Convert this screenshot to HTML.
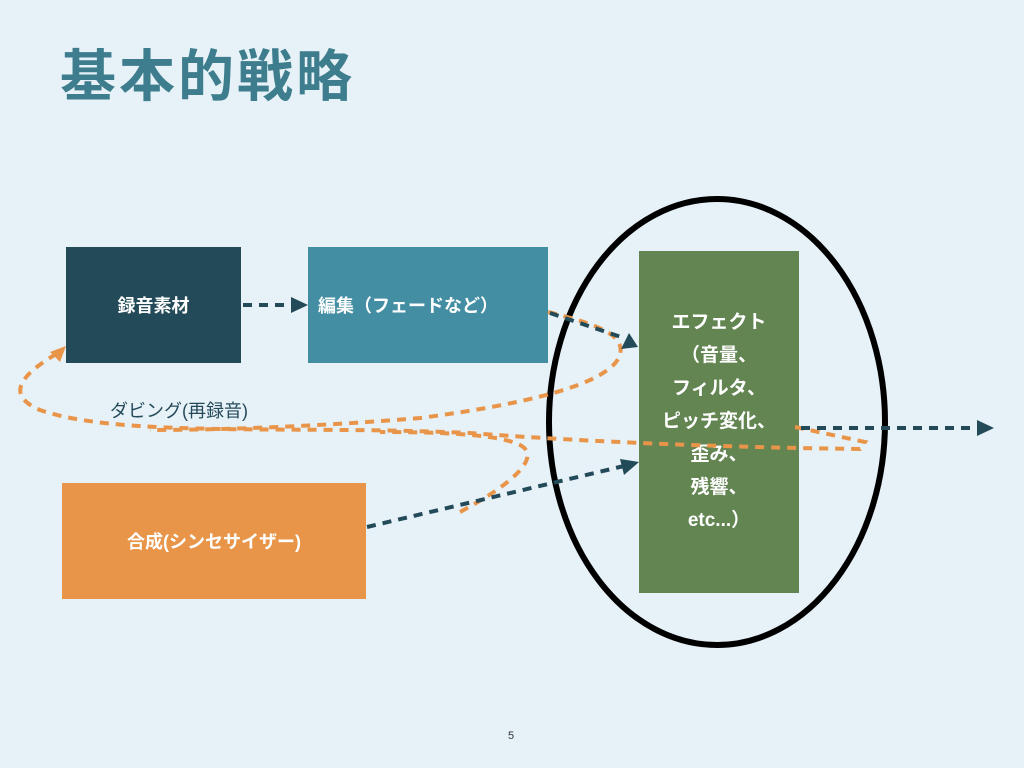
<!DOCTYPE html>
<html><head><meta charset="utf-8"><style>
body{margin:0;width:1024px;height:768px;background:#e7f1f8;position:relative;overflow:hidden;font-family:"Liberation Sans","Noto Sans CJK JP",sans-serif}
.t{position:absolute;left:60px;top:32px;font-size:56px;font-weight:bold;color:#3d7d8d;letter-spacing:3px}
.b{position:absolute;display:flex;align-items:center;justify-content:center;color:#fff;font-weight:bold;font-size:18px;text-align:center}
</style></head><body>
<div class="t">基本的戦略</div>
<div class="b" style="left:66px;top:247px;width:175px;height:116px;background:#234a58">録音素材</div>
<div class="b" style="left:308px;top:247px;width:240px;height:116px;background:#438ea3;justify-content:flex-start;padding-left:10px;box-sizing:border-box">編集（フェードなど）</div>
<div class="b" style="left:62px;top:483px;width:304px;height:116px;background:#e8954a">合成(シンセサイザー)</div>
<div class="b" style="left:639px;top:251px;width:160px;height:342px;background:#638552;line-height:33px;font-size:19px;align-items:flex-start;padding-top:55px;box-sizing:border-box">エフェクト<br>（音量、<br>フィルタ、<br>ピッチ変化、<br>歪み、<br>残響、<br>etc...）</div>
<div style="position:absolute;left:110px;top:397px;font-size:18px;color:#234a58">ダビング(再録音)</div>
<div style="position:absolute;left:508px;top:730px;font-size:11px;color:#333">5</div>
<svg width="1024" height="768" style="position:absolute;left:0;top:0">
<ellipse cx="717" cy="422" rx="168" ry="223" fill="none" stroke="#000" stroke-width="6"/>
<g fill="none" stroke="#e8954a" stroke-width="4" stroke-dasharray="9,7">
<path d="M795,427 L865,442 L860,449 C700,447 560,440 470,433 C300,425 120,438 40,410 C5,395 20,375 58,353"/>
<path d="M548,312 C600,325 625,335 620,355 C610,385 520,405 420,418 C300,428 200,430 150,430"/>
<path d="M460,512 C520,480 540,455 520,445 C500,435 450,432 380,432"/>
</g>
<polygon points="66,346 50,352 60,362" fill="#e8954a"/>
<g fill="none" stroke="#234a58" stroke-width="4" stroke-dasharray="9,7">
<path d="M243,305 L292,305"/>
<path d="M550,313 L624,338"/>
<path d="M367,527 L624,466"/>
<path d="M801,428 L976,428"/>
</g>
<g fill="#234a58">
<polygon points="308,305 291,297 291,313"/>
<polygon points="638,347 629,333 621,349"/>
<polygon points="639,462 620,459 624,475"/>
<polygon points="994,428 977,420 977,436"/>
</g>
</svg>
</body></html>
